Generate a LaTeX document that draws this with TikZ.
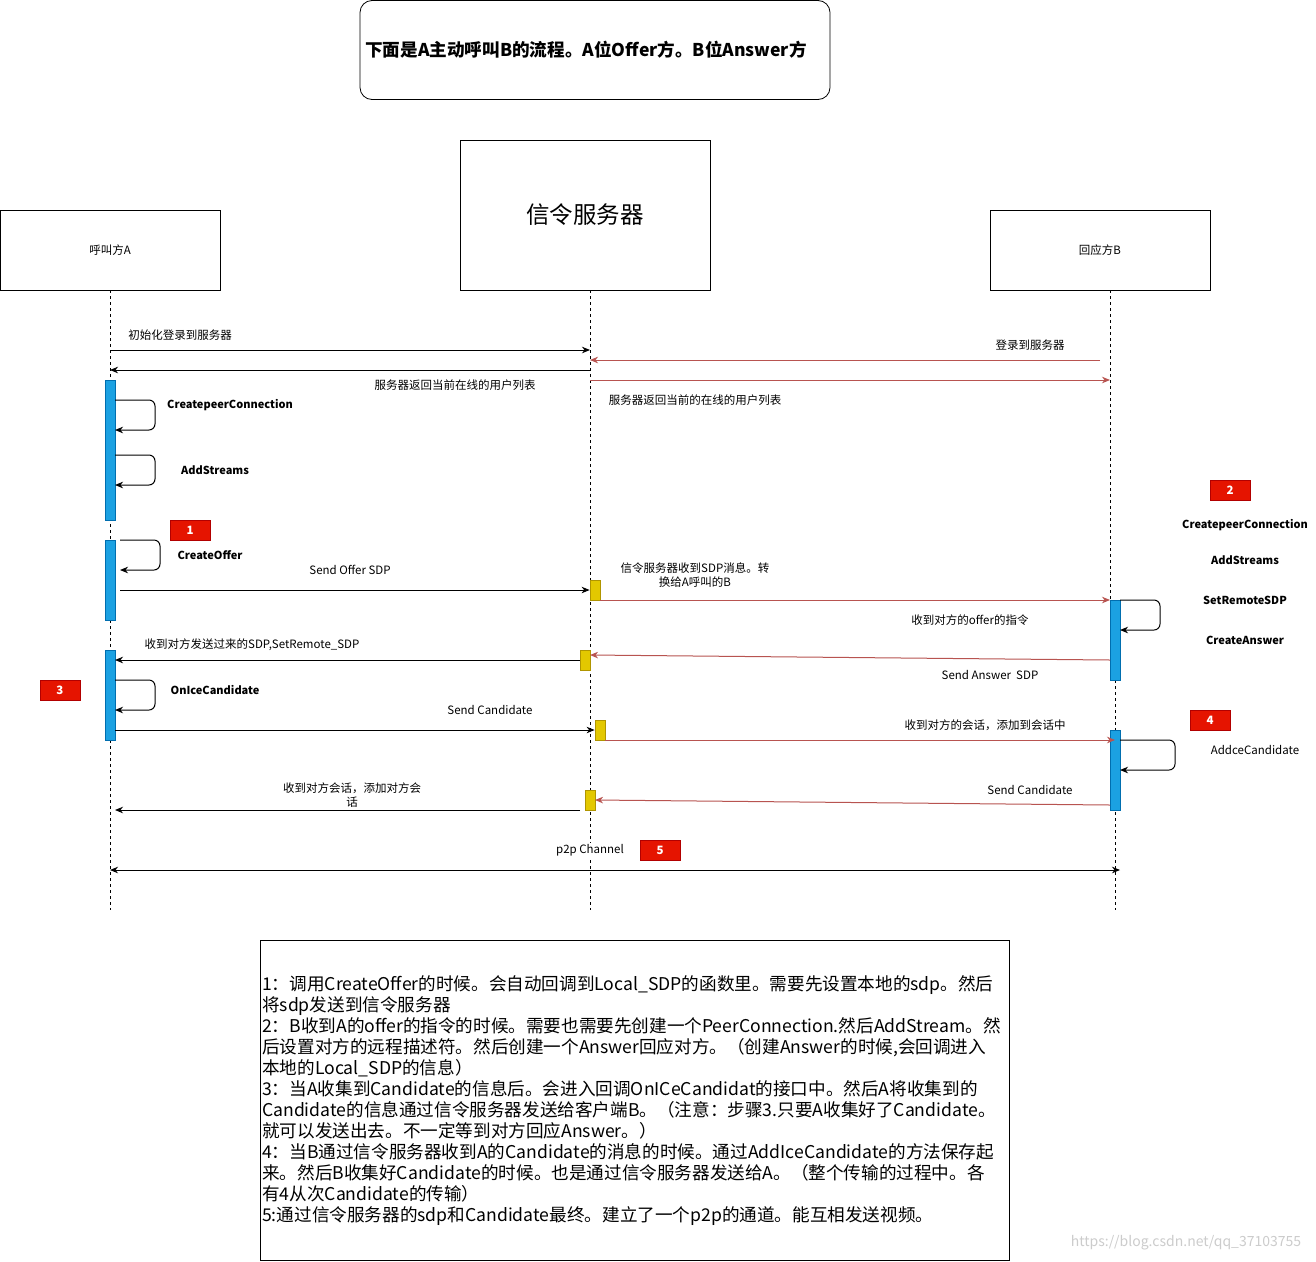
\documentclass[tikz,border=0pt]{standalone}
\usepackage{fontspec}
\setmainfont{Noto Sans CJK SC}
\usetikzlibrary{arrows.meta}
\definecolor{redline}{HTML}{B85450}
\definecolor{actfill}{HTML}{1BA1E2}
\definecolor{actline}{HTML}{006EAF}
\definecolor{yelfill}{HTML}{E3C800}
\definecolor{yelline}{HTML}{B09500}
\definecolor{badgefill}{HTML}{E51400}
\definecolor{badgeline}{HTML}{B20000}
\begin{document}
\begin{tikzpicture}[x=1pt,y=-1pt,
  box/.style={draw,line width=0.8pt,inner sep=0pt},
  life/.style={line width=0.8pt,dash pattern=on 3pt off 3pt},
  msg/.style={line width=1pt,-{Stealth[length=8pt,width=6.5pt,inset=2.5pt]}},
  rmsg/.style={msg,draw=redline},
  dmsg/.style={line width=1pt,{Stealth[length=8pt,width=6.5pt,inset=2.5pt]}-{Stealth[length=8pt,width=6.5pt,inset=2.5pt]}},
  loopmsg/.style={msg,rounded corners=6pt},
  lbl/.style={font=\fontsize{11.5}{14}\selectfont,inner sep=0pt,align=center},
  blbl/.style={font=\bfseries\fontsize{11}{13}\selectfont,inner sep=0pt},
  act/.style={draw=actline,fill=actfill,minimum width=10pt,inner sep=0pt,line width=0.8pt},
  yel/.style={draw=yelline,fill=yelfill,minimum width=10pt,minimum height=20pt,inner sep=0pt,line width=0.8pt},
  badge/.style={draw=badgeline,fill=badgefill,text=white,minimum width=40pt,minimum height=20pt,inner sep=0pt,font=\bfseries\fontsize{11.5}{13}\selectfont}]
\useasboundingbox (0,0) rectangle (1316,1261);
\fill[white] (0,0) rectangle (1316,1261);

% title
\node[box,rounded corners=12pt,minimum width=470pt,minimum height=99pt] (title) at (595,50) {};
\node[font=\bfseries\fontsize{17.6}{20}\selectfont,inner sep=0pt] (titletext) at (586,50) {下面是A主动呼叫B的流程。A位Offer方。B位Answer方};

% participants
\node[box,minimum width=220pt,minimum height=80pt] (Abox) at (110,250) {};
\node[lbl] (Atext) at (110,250) {呼叫方A};
\node[box,minimum width=250pt,minimum height=150pt] (Sbox) at (585,215) {};
\node[font=\fontsize{23.5}{26}\selectfont,inner sep=0pt] (Stext) at (585,215) {信令服务器};
\node[box,minimum width=220pt,minimum height=80pt] (Bbox) at (1100,250) {};
\node[lbl] (Btext) at (1100,250) {回应方B};

% lifelines
\coordinate (Atop) at (110,290); \coordinate (Abot) at (110,910);
\coordinate (Stop) at (590,290); \coordinate (Sbot) at (590,910);
\coordinate (Btop) at (1110,290); \coordinate (Bmid) at (1110,600);
\coordinate (Bmid2) at (1115,680); \coordinate (Bbot) at (1115,910);
\draw[life] (Atop) -- (Abot);
\draw[life] (Stop) -- (Sbot);
\draw[life] (Btop) -- (Bmid);
\draw[life] (Bmid2) -- (Bbot);

% activation bars
\node[act,minimum height=140pt] (A1) at (110,450) {};
\node[act,minimum height=80pt] (A2) at (110,580) {};
\node[act,minimum height=90pt] (A3) at (110,695) {};
\node[act,minimum height=80pt] (B1) at (1115,640) {};
\node[act,minimum height=80pt] (B2) at (1115,770) {};
\node[yel] (Y1) at (595,590) {};
\node[yel] (Y2) at (585,660) {};
\node[yel] (Y3) at (600,730) {};
\node[yel] (Y4) at (590,800) {};

% login messages
\coordinate (m1a) at (110,350); \coordinate (m1b) at (590,350);
\draw[msg] (m1a) -- (m1b);
\node[lbl] (l1) at (180,335) {初始化登录到服务器};
\coordinate (m2a) at (590,370); \coordinate (m2b) at (110,370);
\draw[msg] (m2a) -- (m2b);
\node[lbl] (l2) at (455,385) {服务器返回当前在线的用户列表};
\coordinate (m3a) at (1100,360); \coordinate (m3b) at (590,360);
\draw[rmsg] (m3a) -- (m3b);
\node[lbl] (l3) at (1030,345) {登录到服务器};
\coordinate (m4a) at (590,380); \coordinate (m4b) at (1110,380);
\draw[rmsg] (m4a) -- (m4b);
\node[lbl] (l4) at (695,400) {服务器返回当前的在线的用户列表};

% A self calls
\coordinate (c1a) at (115,400); \coordinate (c1b) at (155,400); \coordinate (c1c) at (155,430); \coordinate (c1d) at (115,430);
\draw[loopmsg] (c1a) -- (c1b) -- (c1c) -- (c1d);
\node[blbl] (l5) at (230,405) {CreatepeerConnection};
\coordinate (c2a) at (115,455); \coordinate (c2b) at (155,455); \coordinate (c2c) at (155,485); \coordinate (c2d) at (115,485);
\draw[loopmsg] (c2a) -- (c2b) -- (c2c) -- (c2d);
\node[blbl] (l6) at (215,470) {AddStreams};
\node[badge] (badge1) at (190,530) {1};
\coordinate (c3a) at (120,540); \coordinate (c3b) at (160,540); \coordinate (c3c) at (160,570); \coordinate (c3d) at (120,570);
\draw[loopmsg] (c3a) -- (c3b) -- (c3c) -- (c3d);
\node[blbl] (l7) at (210,555) {CreateOffer};

% offer
\coordinate (m5a) at (120,590);
\draw[msg] (m5a) -- (Y1.west);
\node[lbl] (l8) at (350,570) {Send Offer SDP};
\coordinate (m6a) at (600,600); \coordinate (m6b) at (1110,600);
\draw[rmsg] (m6a) -- (m6b);
\node[lbl] (l9) at (695,575) {信令服务器收到SDP消息。转\\换给A呼叫的B};
\coordinate (c4a) at (1120,600); \coordinate (c4b) at (1160,600); \coordinate (c4c) at (1160,630); \coordinate (c4d) at (1120,630);
\draw[loopmsg] (c4a) -- (c4b) -- (c4c) -- (c4d);
\node[lbl] (l10) at (970,620) {收到对方的offer的指令};

% right side notes
\node[badge] (badge2) at (1230,490) {2};
\node[blbl] (r1) at (1245,525) {CreatepeerConnection};
\node[blbl] (r2) at (1245,560) {AddStreams};
\node[blbl] (r3) at (1245,600) {SetRemoteSDP};
\node[blbl] (r4) at (1245,640) {CreateAnswer};

% answer
\coordinate (m7a) at (1110,660); \coordinate (m7b) at (590,655);
\draw[rmsg] (m7a) -- (m7b);
\node[lbl] (l11) at (990,675) {Send Answer~~SDP};
\coordinate (m8b) at (115,660);
\draw[msg] (Y2.west) -- (m8b);
\node[lbl] (l12) at (252,645) {收到对方发送过来的SDP,SetRemote\_SDP};

% candidates
\node[badge] (badge3) at (60,690) {3};
\coordinate (c5a) at (115,680); \coordinate (c5b) at (155,680); \coordinate (c5c) at (155,710); \coordinate (c5d) at (115,710);
\draw[loopmsg] (c5a) -- (c5b) -- (c5c) -- (c5d);
\node[blbl] (l13) at (215,690) {OnIceCandidate};
\coordinate (m9a) at (115,730);
\draw[msg] (m9a) -- (Y3.west);
\node[lbl] (l14) at (490,710) {Send Candidate};
\coordinate (m10a) at (605,740); \coordinate (m10b) at (1115,740);
\draw[rmsg] (m10a) -- (m10b);
\node[lbl] (l15) at (985,725) {收到对方的会话，添加到会话中};
\node[badge] (badge4) at (1210,720) {4};
\coordinate (c6a) at (1120,740); \coordinate (c6b) at (1175,740); \coordinate (c6c) at (1175,770); \coordinate (c6d) at (1120,770);
\draw[loopmsg] (c6a) -- (c6b) -- (c6c) -- (c6d);
\node[lbl] (l16) at (1255,750) {AddceCandidate};
\coordinate (m11a) at (1110,805); \coordinate (m11b) at (595,800);
\draw[rmsg] (m11a) -- (m11b);
\node[lbl] (l17) at (1030,790) {Send Candidate};
\coordinate (m12a) at (580,810); \coordinate (m12b) at (115,810);
\draw[msg] (m12a) -- (m12b);
\node[lbl] (l18) at (352,795) {收到对方会话，添加对方会\\话};

% p2p
\coordinate (p2pa) at (110,870); \coordinate (p2pb) at (1120,870);
\draw[dmsg] (p2pa) -- (p2pb);
\node[lbl,fill=white,inner sep=1pt] (l19) at (590,850) {p2p Channel};
\node[badge] (badge5) at (660,850) {5};

% note box
\node[box,minimum width=749pt,minimum height=320pt] (note) at (634.5,1100) {};
\node[anchor=north west,inner sep=0pt,align=left,font=\fontsize{17.6}{21}\selectfont] (notetext) at (262,975) {%
1：调用CreateOffer的时候。会自动回调到Local\_SDP的函数里。需要先设置本地的sdp。然后\\
将sdp发送到信令服务器\\
2：B收到A的offer的指令的时候。需要也需要先创建一个PeerConnection.然后AddStream。然\\
后设置对方的远程描述符。然后创建一个Answer回应对方。（创建Answer的时候,会回调进入\\
本地的Local\_SDP的信息）\\
3：当A收集到Candidate的信息后。会进入回调OnICeCandidat的接口中。然后A将收集到的\\
Candidate的信息通过信令服务器发送给客户端B。（注意：步骤3.只要A收集好了Candidate。\\
就可以发送出去。不一定等到对方回应Answer。）\\
4：当B通过信令服务器收到A的Candidate的消息的时候。通过AddIceCandidate的方法保存起\\
来。然后B收集好Candidate的时候。也是通过信令服务器发送给A。（整个传输的过程中。各\\
有4从次Candidate的传输）\\
5:通过信令服务器的sdp和Candidate最终。建立了一个p2p的通道。能互相发送视频。};

\node[font=\fontsize{14}{16}\selectfont,text=gray!40,inner sep=0pt] (wm) at (1186,1243) {https://blog.csdn.net/qq\_37103755};
\end{tikzpicture}
\end{document}
